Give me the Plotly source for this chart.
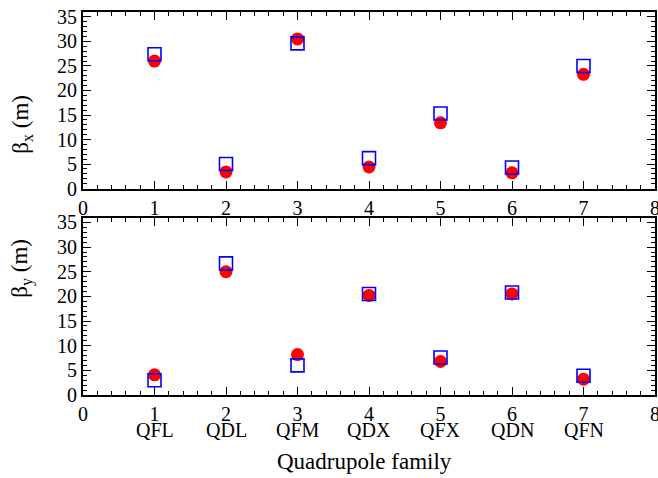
import plotly.graph_objects as go

positions = [1, 2, 3, 4, 5, 6, 7]
families = ["QFL", "QDL", "QFM", "QDX", "QFX", "QDN", "QFN"]
betax_circle = [26.0, 3.4, 30.5, 4.4, 13.4, 3.2, 23.3]
betax_square = [27.4, 5.0, 29.6, 6.2, 15.3, 4.3, 25.0]
betay_circle = [4.1, 25.0, 8.2, 20.2, 6.8, 20.5, 3.2]
betay_square = [3.0, 26.7, 6.0, 20.5, 7.6, 20.8, 3.9]
xticks = [0, 1, 2, 3, 4, 5, 6, 7, 8]
yticks = [0, 5, 10, 15, 20, 25, 30, 35]

FONT = "Liberation Serif, Times New Roman, Times, serif"
RED = "#ff0000"
BLUE = "#0000ff"
TICK_SIZE = 20
TITLE_SIZE = 23

fig = go.Figure()

def add_panel(xa, ya, circ, sq):
    fig.add_trace(go.Scatter(x=positions, y=circ, mode="markers", xaxis=xa, yaxis=ya,
                             marker=dict(symbol="circle", size=13, color=RED, line=dict(width=0)),
                             showlegend=False))
    fig.add_trace(go.Scatter(x=positions, y=sq, mode="markers", xaxis=xa, yaxis=ya,
                             marker=dict(symbol="square-open", size=13, color=BLUE, line=dict(width=1.6, color=BLUE)),
                             showlegend=False))

add_panel("x", "y", betax_circle, betax_square)
add_panel("x2", "y2", betay_circle, betay_square)

common_x = dict(range=[0, 8], tickvals=xticks, ticks="inside", ticklen=8, tickwidth=1.3,
                tickcolor="black", showline=True, linecolor="black", linewidth=2, mirror="allticks",
                showgrid=False, zeroline=False, automargin=False, ticklabeloverflow="allow",
                tickfont=dict(family=FONT, size=TICK_SIZE, color="black"),
                minor=dict(dtick=0.2, ticks="inside", ticklen=4, tickwidth=1.1, tickcolor="black", showgrid=False))
common_y = dict(range=[0, 36], tickvals=yticks, ticks="inside", ticklen=8, tickwidth=1.3,
                tickcolor="black", showline=True, linecolor="black", linewidth=2, mirror="allticks",
                showgrid=False, zeroline=False, automargin=False, ticklabeloverflow="allow",
                tickfont=dict(family=FONT, size=TICK_SIZE, color="black"),
                minor=dict(dtick=1, ticks="inside", ticklen=4, tickwidth=1.1, tickcolor="black", showgrid=False))

fig.update_layout(
    width=658, height=478,
    margin=dict(l=83, r=3, t=12, b=83),
    paper_bgcolor="white", plot_bgcolor="white",
    font=dict(family=FONT, color="black"),
    xaxis=dict(common_x, domain=[0, 1], anchor="y"),
    yaxis=dict(common_y, domain=[0.539, 1], anchor="x"),
    xaxis2=dict(common_x, domain=[0, 1], anchor="y2"),
    yaxis2=dict(common_y, domain=[0, 0.4634], anchor="x2"),
)

for p, name in zip(positions, families):
    fig.add_annotation(x=p, xref="x2", y=0, yref="paper", yanchor="top", yshift=-23, borderpad=0,
                       text=name, showarrow=False, font=dict(family=FONT, size=TICK_SIZE, color="black"))

fig.add_annotation(x=0.5, xref="paper", xshift=-5, y=0, yref="paper", yanchor="middle", yshift=-66,
                   text="Quadrupole family", showarrow=False, font=dict(family=FONT, size=TITLE_SIZE, color="black"))
fig.add_annotation(x=0, xref="paper", xanchor="center", xshift=-61, y=0.7695, yref="paper", yshift=7,
                   text="β<sub>x</sub> (m)", textangle=-90, showarrow=False,
                   font=dict(family=FONT, size=TITLE_SIZE, color="black"))
fig.add_annotation(x=0, xref="paper", xanchor="center", xshift=-61, y=0.2317, yref="paper", yshift=6,
                   text="β<sub>y</sub> (m)", textangle=-90, showarrow=False,
                   font=dict(family=FONT, size=TITLE_SIZE, color="black"))

fig.write_html("out.html", config={"displayModeBar": False},
               post_script="document.body.style.margin='0px';")
